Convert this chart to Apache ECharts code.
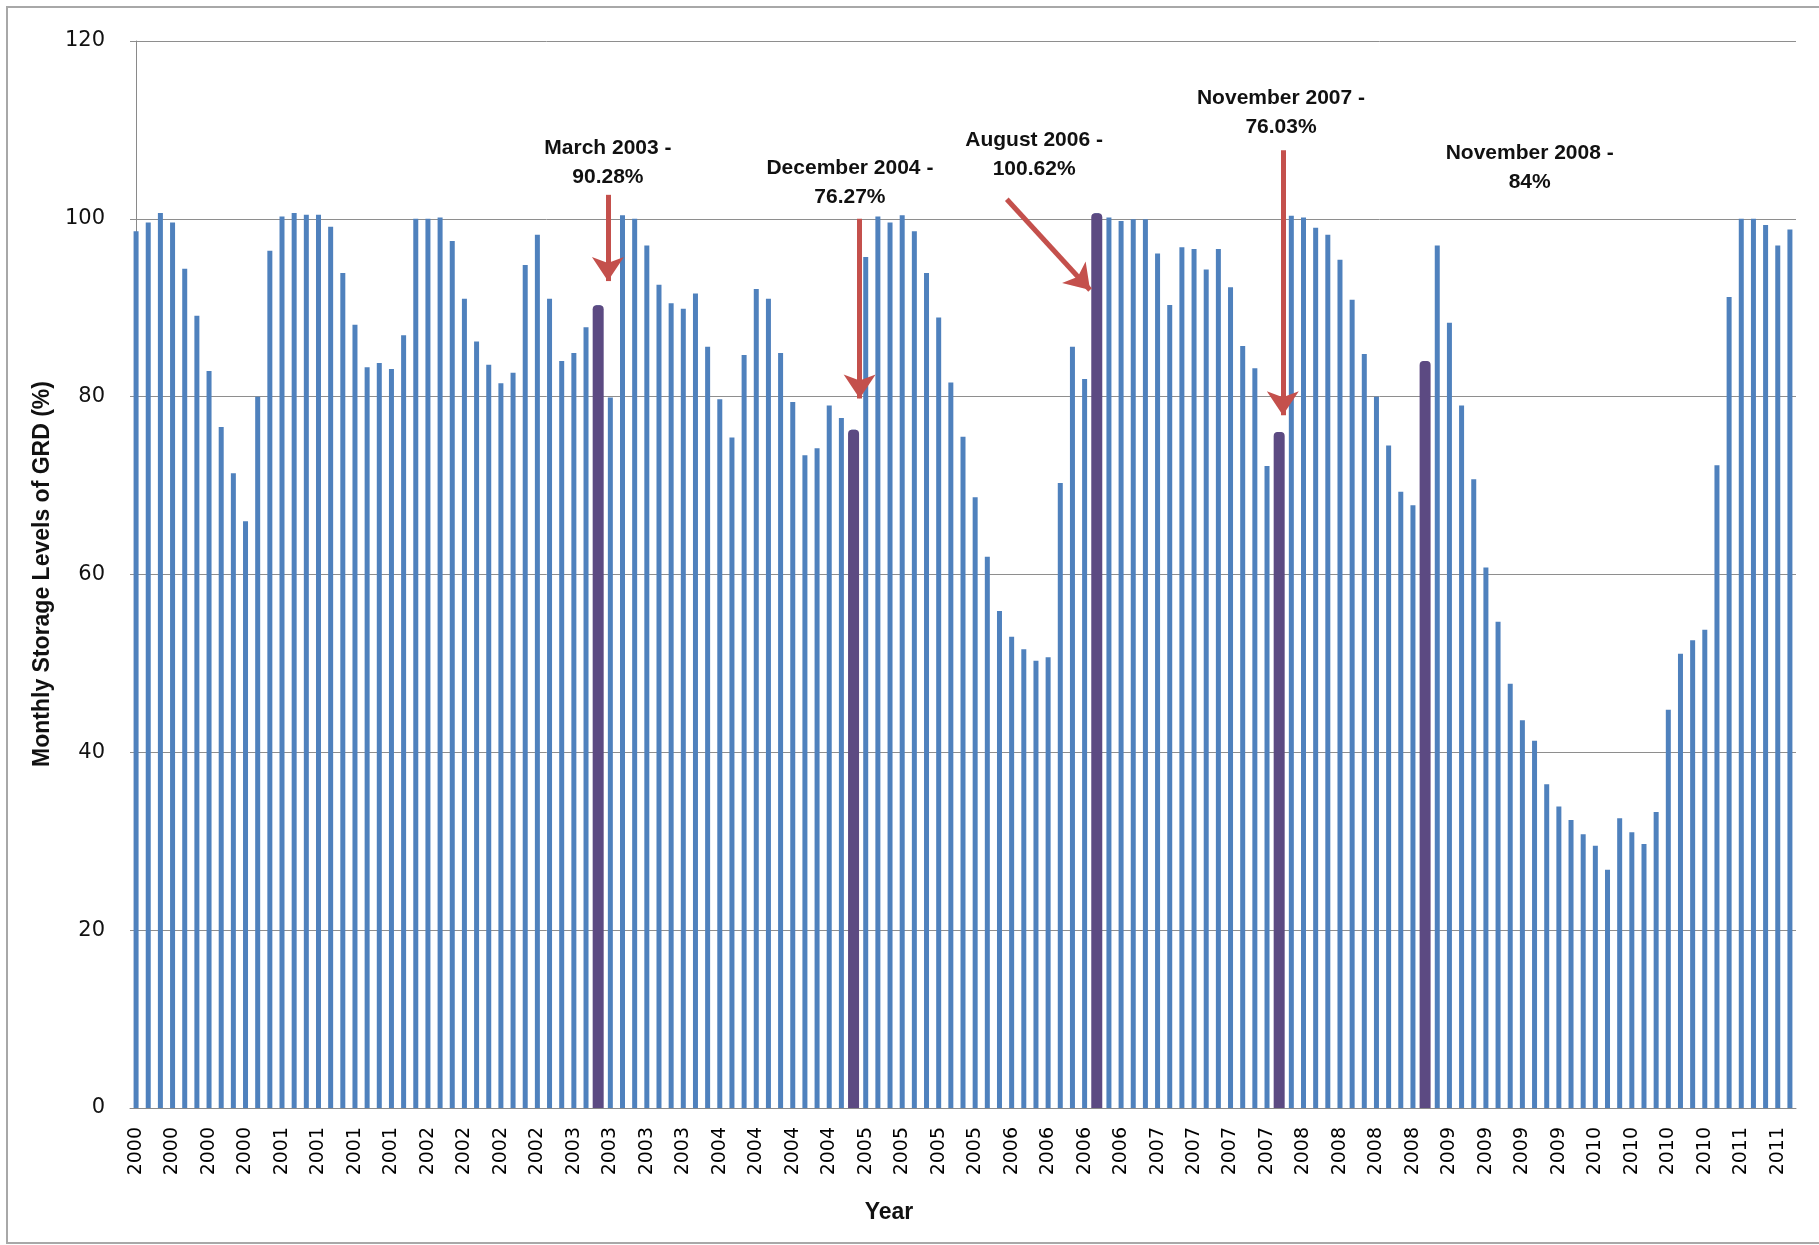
<!DOCTYPE html>
<html>
<head>
<meta charset="utf-8">
<title>Monthly Storage Levels of GRD</title>
<script src="https://cdn.jsdelivr.net/npm/echarts@6/dist/echarts.min.js"></script>
<style>
  html, body { margin: 0; padding: 0; background: #fff; }
  #chart { width: 1819px; height: 1245px; }
</style>
</head>
<body>
<div id="chart"></div>
<script>
  // monthly storage (%) Jan 2000 .. May 2011, one row per year
  var years = [2000, 2001, 2002, 2003, 2004, 2005, 2006, 2007, 2008, 2009, 2010, 2011];
  var storage2000 = [98.6, 99.6, 100.65, 99.6, 94.4, 89.1, 82.9, 76.6, 71.4, 66.0, 80.0, 96.4];
  var storage2001 = [100.25, 100.65, 100.45, 100.45, 99.1, 93.9, 88.1, 83.3, 83.8, 83.1, 86.9, 100.0];
  var storage2002 = [100.0, 100.15, 97.5, 91.0, 86.2, 83.6, 81.5, 82.7, 94.8, 98.2, 91.0, 84.0];
  var storage2003 = [84.9, 87.8, 90.28, 79.9, 100.4, 100.0, 97.0, 92.6, 90.5, 89.9, 91.6, 85.6];
  var storage2004 = [79.7, 75.4, 84.7, 92.1, 91.0, 84.9, 79.4, 73.4, 74.2, 79.0, 77.6, 76.27];
  var storage2005 = [95.7, 100.25, 99.6, 100.4, 98.6, 93.9, 88.9, 81.6, 75.5, 68.7, 62.0, 55.9];
  var storage2006 = [53.0, 51.6, 50.3, 50.7, 70.3, 85.6, 82.0, 100.62, 100.15, 99.75, 99.95, 99.95];
  var storage2007 = [96.1, 90.3, 96.8, 96.6, 94.3, 96.6, 92.3, 85.7, 83.2, 72.2, 76.03, 100.35];
  var storage2008 = [100.15, 99.0, 98.2, 95.4, 90.9, 84.8, 80.0, 74.5, 69.3, 67.8, 84.0, 97.0];
  var storage2009 = [88.3, 79.0, 70.7, 60.8, 54.7, 47.7, 43.6, 41.3, 36.4, 33.9, 32.4, 30.8];
  var storage2010 = [29.5, 26.8, 32.6, 31.0, 29.7, 33.3, 44.8, 51.1, 52.6, 53.8, 72.3, 91.2];
  var storage2011 = [100.0, 100.0, 99.3, 97.0, 98.8];

  var yTicks = [0, 20, 40, 60, 80, 100, 120];

  // highlighted months (index from Jan 2000) and their notes
  var highlightIndex = [38, 59, 79, 94, 106];
  var highlightText = ['March 2003 -\n90.28%', 'December 2004 -\n76.27%', 'August 2006 -\n100.62%',
    'November 2007 -\n76.03%', 'November 2008 -\n84%'];

  // where the notes and arrows sit (x in month index, y in %)
  var notePos = [[38.8, 106.3], [58.7, 104.1], [73.85, 107.2], [94.15, 111.9], [114.6, 105.8]];
  var arrowPos = [
    [[38.8, 102.7], [38.8, 93.0]],
    [[59.5, 100.0], [59.5, 79.8]],
    [[71.6, 102.2], [78.45, 92.0]],
    [[94.3, 107.7], [94.3, 77.9]]
  ];

  var storage = [].concat(storage2000, storage2001, storage2002, storage2003, storage2004, storage2005,
    storage2006, storage2007, storage2008, storage2009, storage2010, storage2011);

  var categories = [];
  years.forEach(function (y, k) {
    var n = k < years.length - 1 ? 12 : storage2011.length;
    for (var m = 0; m < n; m++) {
      categories.push(String(y));
    }
  });

  var highlight = storage.map(function (v, i) {
    return highlightIndex.indexOf(i) >= 0 ? v : '-';
  });

  var noteData = notePos.map(function (p, i) {
    return { value: p, text: highlightText[i] };
  });
  var arrowData = arrowPos.map(function (a) {
    return [{ coord: a[0] }, { coord: a[1] }];
  });

  var labelFont = 'DejaVu Sans';
  var titleFont = 'Liberation Sans';

  var chart = echarts.init(document.getElementById('chart'));
  chart.setOption({
    animation: false,
    backgroundColor: '#fff',
    grid: { left: 130, right: 23, top: 41, bottom: 137, containLabel: false },
    xAxis: [{
      type: 'category',
      data: categories,
      axisLine: { show: true, lineStyle: { color: '#8a8a8a', width: 1 } },
      axisTick: { show: false },
      axisLabel: {
        interval: 2,
        rotate: 90,
        margin: 19,
        color: '#000',
        fontFamily: labelFont,
        fontSize: 19
      }
    }, {
      type: 'category',
      data: categories,
      show: false
    }, {
      type: 'value',
      min: -0.5,
      max: storage.length - 0.5,
      show: false
    }],
    yAxis: {
      type: 'value',
      min: yTicks[0],
      max: yTicks[yTicks.length - 1],
      interval: 20,
      axisLine: { show: true, lineStyle: { color: '#8a8a8a', width: 1 } },
      axisTick: { show: false },
      axisLabel: {
        margin: 25,
        color: '#111',
        fontFamily: labelFont,
        fontSize: 21
      },
      splitLine: { show: true, lineStyle: { color: '#8e8e8e', width: 1 } }
    },
    graphic: [{
      type: 'rect',
      shape: { x: 7, y: 7, width: 1830, height: 1236 },
      style: { fill: 'none', stroke: '#a8a8a8', lineWidth: 2 },
      silent: true
    }, {
      type: 'text',
      x: 43,
      y: 574,
      rotation: Math.PI / 2,
      style: {
        text: 'Monthly Storage Levels of GRD (%)',
        fontFamily: titleFont,
        fontWeight: 'bold',
        fontSize: 23,
        fill: '#111',
        textAlign: 'center',
        textVerticalAlign: 'middle'
      }
    }, {
      type: 'text',
      x: 889,
      y: 1213,
      style: {
        text: 'Year',
        fontFamily: titleFont,
        fontWeight: 'bold',
        fontSize: 23,
        fill: '#111',
        textAlign: 'center',
        textVerticalAlign: 'middle'
      }
    }],
    series: [{
      name: 'Storage',
      type: 'bar',
      xAxisIndex: 0,
      data: storage,
      barWidth: 5,
      itemStyle: { color: '#4f81bd' }
    }, {
      name: 'Highlight',
      type: 'bar',
      xAxisIndex: 1,
      data: highlight,
      barWidth: 11,
      itemStyle: { color: '#5c4a82', borderRadius: [4, 4, 0, 0] }
    }, {
      name: 'Notes',
      type: 'scatter',
      xAxisIndex: 2,
      data: noteData,
      symbolSize: 1,
      itemStyle: { color: '#ffffff', opacity: 1 },
      silent: true,
      z: 5,
      label: {
        show: true,
        position: 'inside',
        formatter: function (p) { return p.data.text; },
        fontFamily: titleFont,
        fontWeight: 'bold',
        fontSize: 21,
        lineHeight: 29,
        color: '#111',
        opacity: 1,
        textBorderWidth: 0,
        align: 'center',
        verticalAlign: 'middle'
      },
      markLine: {
        silent: true,
        symbol: ['none', 'arrow'],
        symbolSize: [24, 24],
        label: { show: false },
        lineStyle: { color: '#c4504c', width: 5, type: 'solid', opacity: 1 },
        data: arrowData
      }
    }]
  });
</script>
</body>
</html>
